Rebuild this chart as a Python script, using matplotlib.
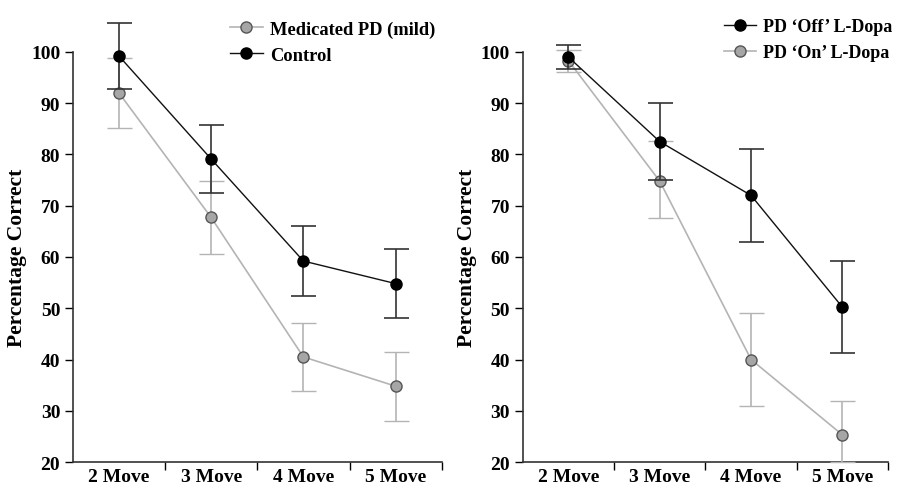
import matplotlib
matplotlib.use("Agg")
from matplotlib import pyplot as plt

plt.rc('font', family=['Liberation Serif', 'DejaVu Serif'])
plt.rc('font', weight='bold')

categories = ["2 Move", "3 Move", "4 Move", "5 Move"]

# left panel
med_mean = [92.0, 67.7, 40.5, 34.8]
med_err = [6.8, 7.2, 6.7, 6.7]
ctrl_mean = [99.2, 79.1, 59.2, 54.8]
ctrl_err = [6.5, 6.7, 6.8, 6.8]

# right panel
off_mean = [99.0, 82.5, 72.0, 50.2]
off_err = [2.3, 7.5, 9.0, 9.0]
on_mean = [98.3, 74.8, 40.0, 25.3]
on_err_low = [2.3, 7.3, 9.0, 5.3]
on_err_high = [2.0, 7.9, 9.0, 6.6]

GRAY_LINE = "#b4b4b4"
GRAY_FILL = "#a6a6a6"
BLACK = "#111111"

fig = plt.figure(figsize=(8.98, 4.89), dpi=100)
ax1 = fig.add_axes([0.081, 0.053, 0.411, 0.839])
ax2 = fig.add_axes([0.582, 0.053, 0.407, 0.839])

x = list(range(1, len(categories) + 1))


def draw_series(ax, mean, err, label, gray):
    if gray:
        c = ax.errorbar(x, mean, yerr=err, color=GRAY_LINE, ecolor=GRAY_LINE, lw=1.2,
                        elinewidth=1.2, capsize=9, capthick=1.2, marker='o', ms=8,
                        mfc=GRAY_FILL, mec="#555555", mew=1.0, clip_on=False, zorder=3)
    else:
        c = ax.errorbar(x, mean, yerr=err, color=BLACK, ecolor="#333333", lw=1.0,
                        elinewidth=1.2, capsize=9, capthick=1.2, marker='o', ms=8,
                        mfc="black", mec="black", clip_on=False, zorder=4)
    line = c[0]
    line.set_label(label)
    return line


def style_axes(ax):
    ax.set_xlim(0.5, 4.5)
    ax.set_ylim(20, 100)
    ax.set_yticks(range(20, 101, 10))
    ax.set_xticks([1.5, 2.5, 3.5, 4.5])
    ax.set_xticklabels([])
    ax.set_xticks(x, minor=True)
    ax.set_xticklabels(categories, minor=True)
    ax.tick_params(axis='x', which='minor', length=0, labelsize=14, pad=4)
    ax.tick_params(axis='x', which='major', length=6, width=1.0, direction='out')
    ax.tick_params(axis='y', length=6, width=1.0, labelsize=14, pad=3)
    for s in ['top', 'right']:
        ax.spines[s].set_visible(False)
    for s in ['left', 'bottom']:
        ax.spines[s].set_linewidth(1.2)
        ax.spines[s].set_color("#333333")
    ax.set_ylabel("Percentage Correct", fontsize=15.5, fontweight='bold', labelpad=3)


h1 = draw_series(ax1, med_mean, med_err, "Medicated PD (mild)", True)
h2 = draw_series(ax1, ctrl_mean, ctrl_err, "Control", False)
style_axes(ax1)
ax1.legend(handles=[h1, h2], loc='upper left', bbox_to_anchor=(0.405, 1.095), frameon=False,
           fontsize=13.3, handlelength=1.8, handletextpad=0.4, labelspacing=0.5, borderaxespad=0)

h3 = draw_series(ax2, off_mean, off_err, "PD \u2018Off\u2019 L-Dopa", False)
h4 = draw_series(ax2, on_mean, [on_err_low, on_err_high], "PD \u2018On\u2019 L-Dopa", True)
style_axes(ax2)
ax2.legend(handles=[h3, h4], loc='upper left', bbox_to_anchor=(0.53, 1.1), frameon=False,
           fontsize=13, handlelength=1.8, handletextpad=0.4, labelspacing=0.5, borderaxespad=0)

fig.savefig("out.png", dpi=100)
